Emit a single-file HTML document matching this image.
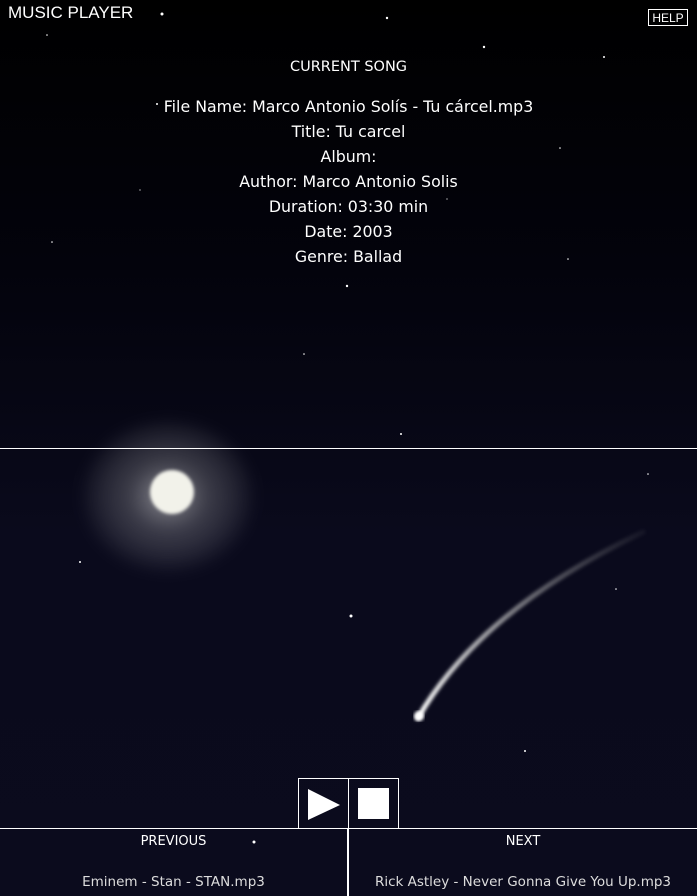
<!DOCTYPE html>
<html><head><meta charset="utf-8"><style>
body{margin:0;width:697px;height:896px;overflow:hidden;font-family:"DejaVu Sans",sans-serif;color:#fff}
#bg{position:absolute;left:0;top:0;width:697px;height:896px;background:linear-gradient(#000 0%,#03030c 30%,#0a0a1c 60%,#0b0b1d 100%)}
.t{position:absolute;white-space:nowrap}
.info{position:absolute;left:0;width:697px;text-align:center;font-size:15.8px}
.ln{position:absolute;background:#fff}
</style></head><body>
<div id="bg"></div>
<svg width="697" height="896" style="position:absolute;left:0;top:0">
<defs>
<radialGradient id="glow"><stop offset="0" stop-color="#fff" stop-opacity=".55"/><stop offset=".45" stop-color="#ccc" stop-opacity=".25"/><stop offset="1" stop-color="#fff" stop-opacity="0"/></radialGradient>
<linearGradient id="tail" x1="418" y1="718" x2="643" y2="532" gradientUnits="userSpaceOnUse"><stop offset="0" stop-color="#fff"/><stop offset=".4" stop-color="#ccc" stop-opacity=".7"/><stop offset="1" stop-color="#888" stop-opacity="0.1"/></linearGradient>
<filter id="bl"><feGaussianBlur stdDeviation="1.5"/></filter>
<filter id="bl2"><feGaussianBlur stdDeviation="6"/></filter>
</defs>
<ellipse cx="168" cy="496" rx="90" ry="80" fill="url(#glow)" filter="url(#bl2)"/>
<circle cx="172" cy="492" r="22" fill="#f2f2ea" filter="url(#bl)"/>
<path d="M418 718 Q480 610 643 532" stroke="url(#tail)" stroke-width="5" fill="none" stroke-linecap="round" filter="url(#bl)"/>
<circle cx="419" cy="716" r="5" fill="#fff" filter="url(#bl)"/>
<g fill="#fff">
<circle cx="162" cy="14" r="1.5"/><circle cx="387" cy="18" r="1.2"/><circle cx="484" cy="47" r="1.2"/><circle cx="47" cy="35" r="0.8"/><circle cx="604" cy="57" r="1"/><circle cx="157" cy="104" r="1"/><circle cx="560" cy="148" r="0.8"/><circle cx="347" cy="286" r="1.2"/><circle cx="304" cy="354" r="0.8"/><circle cx="52" cy="242" r="0.8"/><circle cx="568" cy="259" r="0.8"/><circle cx="401" cy="434" r="1"/><circle cx="80" cy="562" r="1"/><circle cx="351" cy="616" r="1.5"/><circle cx="525" cy="751" r="1"/><circle cx="648" cy="474" r="0.8"/><circle cx="254" cy="842" r="1.5"/><circle cx="616" cy="589" r="0.8"/><circle cx="140" cy="190" r="0.6"/><circle cx="447" cy="199" r="0.6"/>
</g>
</svg>
<div class="t" style="left:8px;top:3px;font-size:17px;font-family:'Liberation Sans',sans-serif">MUSIC PLAYER</div>
<div class="t" style="left:648px;top:9px;width:40px;height:17px;border:1px solid #fff;font-size:12px;text-align:center;line-height:17px;box-sizing:border-box;font-family:'Liberation Sans',sans-serif">HELP</div>
<div class="info" style="top:59px;font-size:14.5px">CURRENT SONG</div>
<div class="info" style="top:97px">File Name: Marco Antonio Solís - Tu cárcel.mp3</div>
<div class="info" style="top:122px">Title: Tu carcel</div>
<div class="info" style="top:147px">Album:</div>
<div class="info" style="top:172px">Author: Marco Antonio Solis</div>
<div class="info" style="top:197px">Duration: 03:30 min</div>
<div class="info" style="top:222px">Date: 2003</div>
<div class="info" style="top:247px">Genre: Ballad</div>
<div class="ln" style="left:0;top:448px;width:697px;height:1px"></div>
<div class="t" style="left:298px;top:778px;width:51px;height:51px;border:1px solid #fff;box-sizing:border-box">
<svg width="49" height="49" style="position:absolute;left:0;top:0"><polygon points="9,10 41,26 9,41" fill="#fff"/></svg></div>
<div class="t" style="left:348px;top:778px;width:51px;height:51px;border:1px solid #fff;box-sizing:border-box">
<div style="position:absolute;left:9px;top:9px;width:31px;height:31px;background:#fff"></div></div>
<div class="ln" style="left:0;top:828px;width:697px;height:1px"></div>
<div class="ln" style="left:347px;top:828px;width:2px;height:68px"></div>
<div class="t" style="left:0;top:834px;width:347px;text-align:center;font-size:13px">PREVIOUS</div>
<div class="t" style="left:0;top:874px;width:347px;text-align:center;font-size:13.5px;color:#ddd">Eminem - Stan - STAN.mp3</div>
<div class="t" style="left:349px;top:834px;width:348px;text-align:center;font-size:13px">NEXT</div>
<div class="t" style="left:349px;top:874px;width:348px;text-align:center;font-size:13.5px;color:#ddd">Rick Astley - Never Gonna Give You Up.mp3</div>
</body></html>
